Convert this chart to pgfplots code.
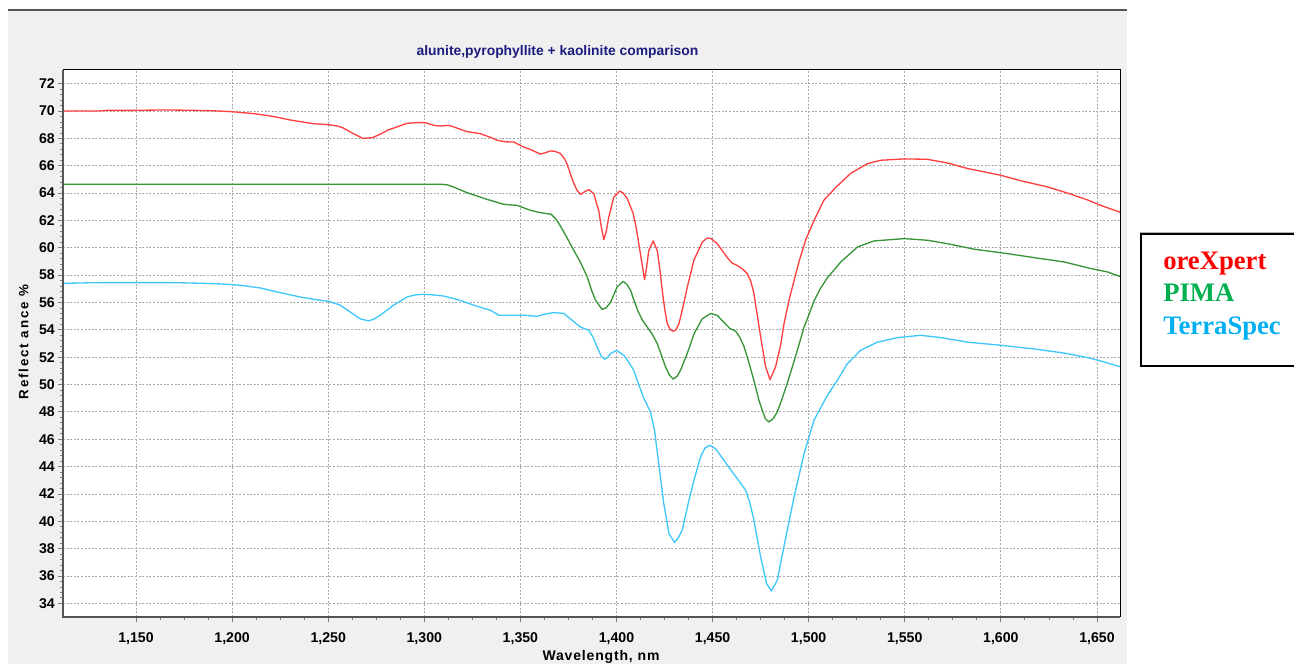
\documentclass[border=0pt]{standalone}
\usepackage{pgfplots}
\pgfplotsset{compat=1.18}
\usepackage{fontspec}
\setmainfont{Liberation Sans}
\newfontfamily\legfont{Liberation Serif}
\definecolor{panel}{RGB}{240,240,240}
\definecolor{navytitle}{RGB}{28,28,128}
\definecolor{cred}{RGB}{255,64,64}
\definecolor{cgreen}{RGB}{56,150,56}
\definecolor{ccyan}{RGB}{64,200,250}
\definecolor{lred}{RGB}{255,0,0}
\definecolor{lgreen}{RGB}{0,176,80}
\definecolor{lcyan}{RGB}{0,176,240}
\definecolor{axdark}{RGB}{85,85,85}
\definecolor{gridc}{RGB}{170,170,170}
\begin{document}
\begin{tikzpicture}
\path[use as bounding box] (0,0) rectangle (970.5pt,498pt);
\fill[panel] (6pt,0) rectangle (845.25pt,490.5pt);
\draw[color=axdark, line width=1pt] (6pt,490.5pt) -- (845.25pt,490.5pt);
\begin{axis}[
  name=ax,
  at={(47.25pt,35.25pt)}, anchor=south west,
  width=792.75pt, height=410.25pt, scale only axis,
  xmin=1112, xmax=1662, ymin=33, ymax=73,
  xtick={1150,1200,...,1650}, ytick={34,36,...,72},
  minor x tick num=3, minor y tick num=4,
  xtick pos=left, ytick pos=left, tick align=outside,
  major tick length=3.75pt, minor tick length=2.25pt,
  every tick/.style={color=gray, line width=0.6pt},
  axis line style={draw=none},
  axis background/.style={fill=white},
  grid=major,
  major grid style={color=gridc, line width=0.6pt, dash pattern=on 1.5pt off 1.2pt},
  /pgf/number format/assume math mode=true,
  /pgf/number format/1000 sep={,},
  ticklabel style={font=\bfseries\fontsize{10.6}{12}\selectfont, inner sep=0pt},
  yticklabel style={anchor=east, xshift=-2.25pt},
  xticklabel style={anchor=base, yshift=-15pt},
]
\addplot[cred, line width=1pt, line join=round] coordinates {
(1112,70.0) (1130,70.0) (1135,70.05) (1150,70.05) (1165,70.08) (1180,70.05) (1190,70.02) (1200,69.95) (1204,69.9) (1212,69.8) (1221.5,69.6) (1230,69.35) (1242,69.08) (1250,69.0) (1255,68.9) (1258,68.75) (1263,68.35) (1268,68.0) (1273,68.05) (1277,68.3) (1281,68.6) (1286,68.85) (1291,69.1) (1296,69.15) (1300.5,69.15) (1305,68.95) (1308,68.9) (1313,68.95) (1318,68.7) (1322,68.5) (1329,68.35) (1334,68.1) (1338,67.86) (1342,67.75) (1346.5,67.73) (1351.6,67.37) (1355,67.2) (1360.4,66.85) (1363,66.95) (1365.6,67.08) (1368,67.05) (1370.8,66.9) (1373,66.5) (1374.2,66.15) (1376,65.4) (1377.8,64.7) (1379.5,64.2) (1381.3,63.9) (1383.5,64.1) (1385.6,64.25) (1388.2,63.96) (1389.9,63.1) (1390.8,62.7) (1392,61.6) (1393.4,60.6) (1394.7,61.2) (1396,62.25) (1398.6,63.7) (1401.7,64.15) (1403.5,64.0) (1405.6,63.6) (1408.7,62.5) (1410.2,61.5) (1411.6,60.3) (1413.2,58.9) (1414.6,57.67) (1415.7,58.6) (1416.8,59.8) (1419.1,60.5) (1421.2,59.8) (1422.5,58.5) (1423.8,56.9) (1425,55.6) (1426.4,54.46) (1428,54.0) (1429.5,53.9) (1431,54.0) (1432.5,54.46) (1434.5,55.6) (1436.8,57.1) (1440.3,59.1) (1444.6,60.4) (1447,60.7) (1449,60.7) (1452.4,60.3) (1455,59.8) (1457.6,59.3) (1460,58.9) (1462.9,58.7) (1466,58.4) (1468.1,58.1) (1470,57.5) (1471.5,56.65) (1473,55.3) (1475,53.5) (1477.6,51.3) (1479.9,50.36) (1482.8,51.3) (1485.4,52.9) (1487.2,54.46) (1490,56.3) (1492.4,57.6) (1495,59.0) (1498.5,60.6) (1502.8,62.0) (1508,63.5) (1514,64.4) (1521.9,65.45) (1530.6,66.15) (1537.5,66.4) (1549.7,66.5) (1561.8,66.47) (1572.2,66.2) (1582.6,65.8) (1600,65.3) (1610.4,64.9) (1624.3,64.45) (1634.7,64.0) (1645.1,63.5) (1652,63.1) (1662,62.6)
};
\addplot[cgreen, line width=1pt, line join=round] coordinates {
(1112,64.64) (1309,64.64) (1312,64.6) (1315.3,64.44) (1322.2,64.03) (1332.6,63.54) (1341.3,63.18) (1348.3,63.1) (1355.2,62.74) (1360.4,62.57) (1366,62.45) (1368.5,62.1) (1370.8,61.6) (1374,60.8) (1377.8,59.8) (1381,59.0) (1384.7,57.9) (1387,56.9) (1389.1,56.16) (1392.5,55.5) (1394.5,55.6) (1396.9,56.0) (1400.3,57.13) (1403.5,57.55) (1405.5,57.3) (1407.3,56.9) (1409,56.2) (1411.1,55.4) (1413.5,54.7) (1416,54.2) (1418.5,53.7) (1421.2,53.0) (1423.5,52.1) (1425.5,51.3) (1427.5,50.7) (1429.5,50.4) (1431.5,50.6) (1433.3,51.04) (1436.8,52.26) (1440.3,53.7) (1444.6,54.8) (1449,55.2) (1452.4,55.06) (1455.9,54.55) (1459,54.1) (1462,53.9) (1464,53.5) (1466.3,52.8) (1468.5,51.8) (1471.5,50.3) (1474.1,48.85) (1475.9,48.1) (1477.5,47.5) (1479.3,47.26) (1481.5,47.5) (1483.7,48.0) (1486,48.9) (1488.9,50.1) (1491.5,51.3) (1494.1,52.5) (1497.6,54.2) (1499.3,54.8) (1502.8,56.1) (1506,57.0) (1509.7,57.8) (1516.7,58.96) (1525.4,60.06) (1534,60.5) (1549.7,60.67) (1561.8,60.55) (1572.2,60.3) (1586,59.9) (1603.5,59.57) (1617.3,59.28) (1633,58.96) (1646.9,58.48) (1655.6,58.23) (1662,57.9)
};
\addplot[ccyan, line width=1pt, line join=round] coordinates {
(1112,57.4) (1130,57.45) (1150,57.45) (1170,57.45) (1185,57.4) (1195,57.35) (1204.2,57.26) (1214.6,57.06) (1225,56.72) (1235.4,56.4) (1244,56.2) (1250.2,56.09) (1256.3,55.8) (1261.5,55.3) (1266.7,54.8) (1271,54.65) (1274,54.8) (1277.1,55.07) (1284,55.8) (1291,56.4) (1295,56.55) (1299.6,56.6) (1305,56.55) (1310.1,56.47) (1317,56.23) (1325.7,55.8) (1334.4,55.43) (1338.7,55.07) (1345,55.07) (1351.6,55.07) (1358.7,54.99) (1363,55.15) (1367.3,55.26) (1372.6,55.2) (1376,54.8) (1381.3,54.2) (1385.6,53.97) (1388,53.4) (1389.9,52.75) (1392,52.1) (1393.75,51.85) (1395.5,52.0) (1396.9,52.26) (1400,52.5) (1403.8,52.14) (1406.5,51.6) (1409,51.04) (1410.8,50.3) (1414.2,49.0) (1417.7,48.0) (1419.8,46.65) (1422,44.2) (1424.6,41.3) (1427.3,39.1) (1430.2,38.45) (1432.2,38.8) (1434.2,39.35) (1437.7,41.54) (1440.3,43.0) (1443.75,44.7) (1446,45.35) (1448.6,45.56) (1451.6,45.3) (1455.9,44.46) (1460.3,43.6) (1464,42.9) (1467.2,42.27) (1469.5,41.3) (1471.5,40.08) (1475,37.4) (1478.1,35.45) (1480.6,34.9) (1483.7,35.7) (1487.1,38.13) (1492.4,41.78) (1497.6,44.95) (1502.8,47.4) (1509.7,49.2) (1514.9,50.3) (1520,51.5) (1527,52.5) (1535.8,53.1) (1546.2,53.43) (1558.3,53.6) (1568.75,53.43) (1582.6,53.1) (1600,52.87) (1617.3,52.6) (1633,52.3) (1645.1,51.97) (1653.8,51.65) (1662,51.3)
};
\end{axis}
\draw[black, line width=0.75pt] (ax.north west) -- (ax.north east) -- (ax.south east);
\draw[axdark, line width=1.5pt] (ax.north west) -- (ax.south west) -- (ax.south east);
\node[anchor=base, inner sep=0pt, text=navytitle, font=\bfseries\fontsize{10.4}{12}\selectfont] at (418.1pt,456pt) {alunite,pyrophyllite + kaolinite comparison};
\node[anchor=base, inner sep=0pt, rotate=90, font=\bfseries\fontsize{10}{12}\selectfont\addfontfeature{LetterSpace=14}] at (21.2pt,241.5pt) {Reflect ance \%};
\node[anchor=base, inner sep=0pt, font=\bfseries\fontsize{10.5}{12}\selectfont\addfontfeature{LetterSpace=6}] at (450.75pt,3pt) {Wavelength, nm};
\draw[gray!60, line width=0.75pt] (855pt,222.75pt) rectangle (975pt,323.25pt);
\draw[black, line width=1.5pt] (855.75pt,223.5pt) rectangle (974pt,322.5pt);
\node[anchor=base west, inner sep=0pt, text=lred, font=\legfont\bfseries\fontsize{20}{24}\selectfont] at (872.25pt,295.5pt) {oreXpert};
\node[anchor=base west, inner sep=0pt, text=lgreen, font=\legfont\bfseries\fontsize{20}{24}\selectfont] at (872.25pt,271.5pt) {PIMA};
\node[anchor=base west, inner sep=0pt, text=lcyan, font=\legfont\bfseries\fontsize{20}{24}\selectfont] at (872.25pt,246.75pt) {TerraSpec};
\end{tikzpicture}
\end{document}
